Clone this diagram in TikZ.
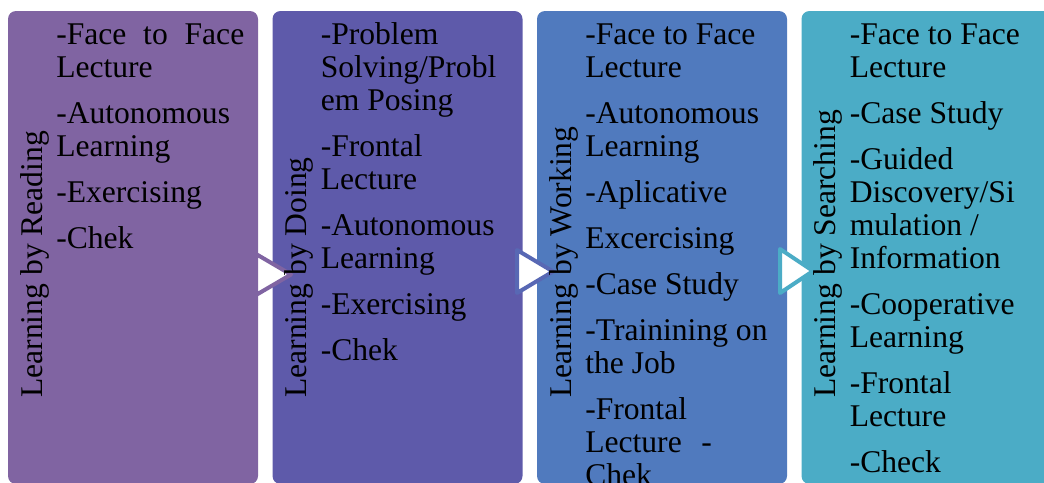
\documentclass[tikz,border=0pt]{standalone}
\usepackage{fontspec}
\setmainfont{Liberation Serif}
\definecolor{readcol}{HTML}{8064A2}
\definecolor{docol}{HTML}{5E5AAA}
\definecolor{workcol}{HTML}{507ABE}
\definecolor{searchcol}{HTML}{4BACC6}
\definecolor{arrowcol}{HTML}{5868B4}
\tikzset{
panel/.style={draw=none,rounded corners=6pt,minimum width=187.5pt,minimum height=354.75pt,inner sep=0},
heading/.style={rotate=90,anchor=base west,inner sep=0,font=\fontsize{23.7}{24.75}\selectfont},
items/.style={anchor=north west,align=left,inner sep=0,font=\fontsize{23.7}{24.75}\selectfont},
tri/.style={fill=white,line width=3pt,line join=round}
}
\begin{document}
\begin{tikzpicture}[x=0.75pt,y=-0.75pt]
\clip (0,0) rectangle (1044,482);
\node[panel,fill=readcol] (read) at (133,247.5) {};
\node[panel,fill=docol] (do) at (397.5,247.5) {};
\node[panel,fill=workcol] (work) at (662,247.5) {};
\node[panel,fill=searchcol] (search) at (926.5,247.5) {};
% arrows between the stages
\draw[tri,draw=readcol] (256,254) -- (291,274.5) -- (256,295) -- cycle;
\draw[tri,draw=arrowcol] (517,250) -- (553,271.5) -- (517,293) -- cycle;
\draw[tri,draw=searchcol] (780,249) -- (813,271) -- (780,293) -- cycle;
% stage names
\node[heading] (readname) at (42,398) {Learning by Reading};
\node[heading] (doname) at (306.5,398) {Learning by Doing};
\node[heading] (workname) at (571,398) {Learning by Working};
\node[heading] (searchname) at (835.5,398) {Learning by Searching};
% methods
\node[items] (readlist) at (56,20.9) {\strut\makebox[141pt][s]{-Face to Face}\\Lecture\\[9.75pt]-Autonomous\\Learning\\[9.75pt]-Exercising\\[9.75pt]-Chek};
\node[items] (dolist) at (320.5,20.9) {\strut-Problem\\Solving/Probl\\em Posing\\[9.75pt]-Frontal\\Lecture\\[9.75pt]-Autonomous\\Learning\\[9.75pt]-Exercising\\[9.75pt]-Chek};
\node[items] (worklist) at (585,20.9) {\strut-Face to Face\\Lecture\\[9.75pt]-Autonomous\\Learning\\[9.75pt]-Aplicative\\[9.75pt]Excercising\\[9.75pt]-Case Study\\[9.75pt]-Trainining on\\the Job\\[9.75pt]-Frontal\\Lecture\hspace{0.62em}-\\Chek};
\node[items] (searchlist) at (849.5,20.9) {\strut-Face to Face\\Lecture\\[9.75pt]-Case Study\\[9.75pt]-Guided\\Discovery/Si\\mulation /\\Information\\[9.75pt]-Cooperative\\Learning\\[9.75pt]-Frontal\\Lecture\\[9.75pt]-Check};
\end{tikzpicture}
\end{document}
